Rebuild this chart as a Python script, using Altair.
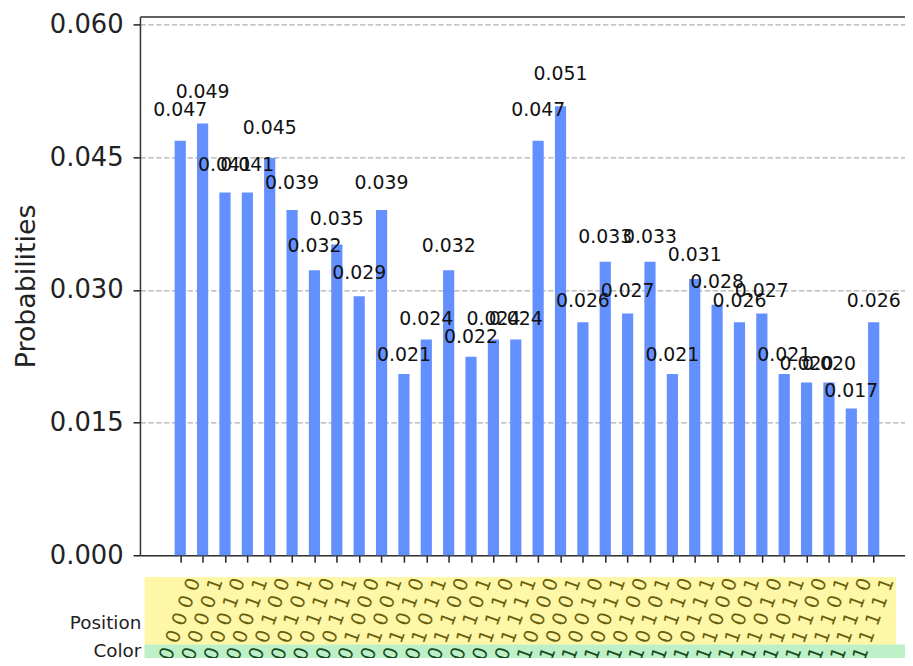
import altair as alt
import pandas as pd

# ---- data ----
states = ["00000", "00001", "00010", "00011", "00100", "00101", "00110", "00111",
          "01000", "01001", "01010", "01011", "01100", "01101", "01110", "01111",
          "10000", "10001", "10010", "10011", "10100", "10101", "10110", "10111",
          "11000", "11001", "11010", "11011", "11100", "11101", "11110", "11111"]
probs = [0.046875, 0.048828, 0.041016, 0.041016, 0.044922, 0.039063, 0.032227, 0.035156,
         0.029297, 0.039063, 0.020508, 0.024414, 0.032227, 0.022461, 0.024414, 0.024414,
         0.046875, 0.050781, 0.026367, 0.033203, 0.027344, 0.033203, 0.020508, 0.031250,
         0.028320, 0.026367, 0.027344, 0.020508, 0.019531, 0.019531, 0.016602, 0.026367]
y_ticks = [0.0, 0.015, 0.030, 0.045, 0.060]
row_names = ["Position", "Color"]

df = pd.DataFrame({"state": states, "prob": probs, "idx": list(range(len(states)))})
df["x0"] = df["idx"] - 0.25
df["x1"] = df["idx"] + 0.25
df["ly"] = df["prob"] * 1.05
df["ptxt"] = ["%.3f" % p for p in probs]
df["tick"] = [" ".join(s) for s in states]

FONT = "DejaVu Sans"
xs = alt.Scale(domain=[-1.8, 32.4], nice=False, zero=False)
ys = alt.Scale(domain=[0, 1.2 * max(probs)], nice=False, zero=True, padding=0)
# panel below the plot: 5 bit rows, 17 px each
ps = alt.Scale(domain=[0, 5], range=[650, 565], nice=False, zero=False)

base = alt.Chart(df)

bars = base.mark_bar(color="#648fff").encode(
    x=alt.X("x0:Q", scale=xs,
            axis=alt.Axis(values=list(range(len(states))), labels=False, ticks=True,
                          tickSize=7, tickWidth=1.5, tickColor="#222", grid=False,
                          domainColor="#333", domainWidth=1.5, title=None, orient="bottom")),
    x2="x1:Q",
    y=alt.Y("prob:Q", scale=ys,
            axis=alt.Axis(values=y_ticks, format=".3f", title="Probabilities",
                          grid=True, gridDash=[5.5, 2.4], gridColor="#b0b0b0", gridWidth=1.2,
                          tickSize=7, tickWidth=1.5, tickColor="#222",
                          domainColor="#333", domainWidth=1.5,
                          labelFontSize=26, labelColor="#222", labelPadding=10, labelFont=FONT,
                          titleFontSize=27, titleFontWeight="normal", titleColor="#222",
                          titlePadding=9, titleFont=FONT)),
    y2=alt.Y2Datum(0),
)

bar_labels = base.mark_text(baseline="bottom", align="center", fontSize=19,
                            color="#111", font=FONT).encode(
    x=alt.X("idx:Q", scale=xs,
            axis=alt.Axis(orient="top", labels=False, ticks=False, grid=False, title=None,
                          domainColor="#333", domainWidth=1.5)),
    y=alt.Y("ly:Q", scale=ys, axis=None),
    text="ptxt:N",
)

tick_labels = base.mark_text(angle=290, align="center", baseline="middle", fontSize=19.5,
                             color="black", font=FONT).encode(
    x=alt.X("idx:Q", scale=xs, axis=None),
    y=alt.YDatum(2.5, scale=ps, axis=None),
    text="tick:N",
)

one = pd.DataFrame({"k": [0]})
band_pos = alt.Chart(one).mark_rect(color="#ffeb26", opacity=0.4).encode(
    x=alt.XDatum(-1.6, scale=xs, axis=None), x2=alt.X2Datum(32.0),
    y=alt.YDatum(1, scale=ps, axis=None), y2=alt.Y2Datum(5),
)
band_col = alt.Chart(one).mark_rect(color="#45d462", opacity=0.35).encode(
    x=alt.XDatum(-1.6, scale=xs, axis=None), x2=alt.X2Datum(32.4),
    y=alt.YDatum(0, scale=ps, axis=None), y2=alt.Y2Datum(1),
)
lab_pos = alt.Chart(one).mark_text(text=row_names[0], align="right", baseline="middle",
                                   fontSize=18.5, color="#222", font=FONT).encode(
    x=alt.XDatum(-1.74, scale=xs, axis=None),
    y=alt.YDatum(2.3, scale=ps, axis=None),
)
lab_col = alt.Chart(one).mark_text(text=row_names[1], align="right", baseline="middle",
                                   fontSize=18.5, color="#222", font=FONT).encode(
    x=alt.XDatum(-1.74, scale=xs, axis=None),
    y=alt.YDatum(0.6, scale=ps, axis=None),
)

chart = alt.layer(bars, bar_labels, tick_labels, band_pos, band_col, lab_pos, lab_col).resolve_scale(
    y="independent"
).resolve_axis(
    x="independent"
).properties(
    width=771, height=543,
    autosize=alt.AutoSizeParams(type="none"),
    padding={"left": 133, "top": 6, "right": 0, "bottom": 101},
).configure_view(stroke=None).configure(font=FONT)

chart.save("out.html", embed_options={"renderer": "svg", "actions": False})
